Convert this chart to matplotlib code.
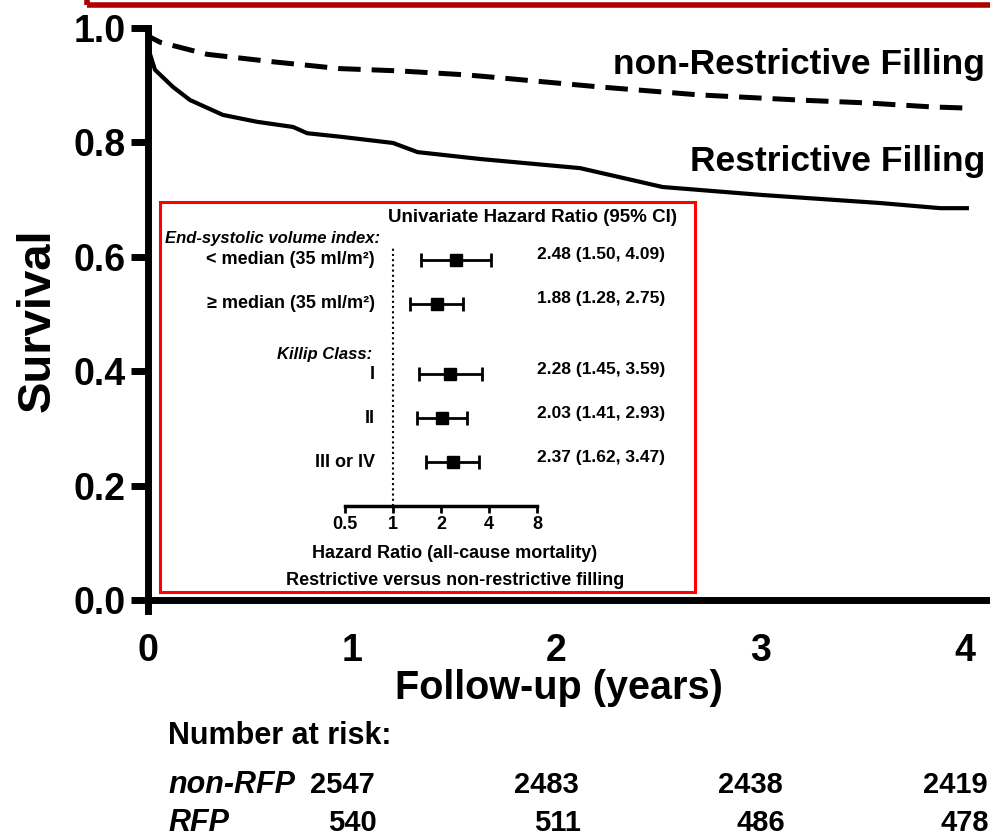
import matplotlib
matplotlib.use("Agg")
import matplotlib.pyplot as plt
import matplotlib.transforms as mtransforms
from matplotlib.patches import Rectangle

plt.rcParams['font.family'] = ['Liberation Sans', 'DejaVu Sans']

# Kaplan-Meier survival curves (years, survival probability)
t_nonrfp = [0, 0.01, 0.06, 0.29, 0.61, 0.94, 1.23, 1.56, 1.72, 2.21, 2.70, 3.19, 3.52, 3.84, 4.01]
s_nonrfp = [1.0, 0.984, 0.975, 0.954, 0.941, 0.929, 0.925, 0.918, 0.913, 0.897, 0.883, 0.874, 0.869, 0.862, 0.860]

t_rfp = [0, 0.005, 0.034, 0.122, 0.206, 0.367, 0.534, 0.71, 0.78, 0.94, 1.2, 1.32,
         1.626, 2.116, 2.52, 3.01, 3.585, 3.88, 4.01]
s_rfp = [1.0, 0.96, 0.927, 0.897, 0.874, 0.848, 0.836, 0.827, 0.816, 0.810, 0.799, 0.783,
         0.771, 0.755, 0.722, 0.708, 0.694, 0.685, 0.685]

x_ticks = [0, 1, 2, 3, 4]
y_ticks = [0.0, 0.2, 0.4, 0.6, 0.8, 1.0]

# Number at risk table
risk_cols = [1, 2, 3, 4]
risk_nonrfp = [2547, 2483, 2438, 2419]
risk_rfp = [540, 511, 486, 478]

# Forest plot: univariate hazard ratios (95% CI)
hr_labels = ['< median (35 ml/m²)', '≥ median (35 ml/m²)', 'I', 'II', 'III or IV']
hr_rows = [0, 1, 2.6, 3.6, 4.6]
hr = [2.48, 1.88, 2.28, 2.03, 2.37]
hr_lo = [1.50, 1.28, 1.45, 1.41, 1.62]
hr_hi = [4.09, 2.75, 3.59, 2.93, 3.47]
hr_ticks = [0.5, 1, 2, 4, 8]
hr_ticklabels = ['0.5', '1', '2', '4', '8']

W, H = 990, 838
fig = plt.figure(figsize=(W / 100, H / 100), dpi=100)
fig.patch.set_facecolor('white')


def fx(px):
    return px / W


def fy(py):
    return 1 - py / H


# frame line running along the top edge
fig.patches.append(Rectangle((fx(87), fy(5)), 2, 2, transform=fig.transFigure,
                             fill=False, edgecolor='#b00000', lw=4, clip_on=False))

# ---- main survival axes ----
ax = fig.add_axes([fx(148), fy(611.4), (W - 148) / W, (611.4 - 28) / H])
ax.plot(t_nonrfp, s_nonrfp, color='black', lw=3.6, dashes=(4.5, 2.2), solid_capstyle='butt')
ax.plot(t_rfp, s_rfp, color='black', lw=3.0)
ax.set_xlim(0, (W - 148) / 204.2)
ax.set_ylim(-0.02, 1.0)
ax.spines['top'].set_visible(False)
ax.spines['right'].set_visible(False)
ax.spines['bottom'].set_position(('data', 0))
ax.spines['bottom'].set_linewidth(5)
ax.spines['left'].set_linewidth(5)
ax.set_yticks(y_ticks)
ax.set_yticklabels([f'{v:.1f}' for v in y_ticks], fontsize=27, fontweight='bold')
ax.tick_params(axis='y', length=12.5, width=5, pad=3.5)
ax.set_xticks(x_ticks)
ax.set_xticklabels([str(v) for v in x_ticks], fontsize=27, fontweight='bold')
ax.tick_params(axis='x', length=0, pad=24)
ax.set_ylabel('Survival', fontsize=34, fontweight='bold', labelpad=10)

ax.text(4.10, 0.937, 'non-Restrictive Filling', fontsize=25.5, fontweight='bold',
        ha='right', va='center')
ax.text(4.10, 0.767, 'Restrictive Filling', fontsize=25.5, fontweight='bold',
        ha='right', va='center')

fig.text(fx(559), fy(688), 'Follow-up (years)', fontsize=28.5, fontweight='bold',
         ha='center', va='center')

# number at risk
fig.text(fx(168), fy(736), 'Number at risk:', fontsize=22, fontweight='bold',
         ha='left', va='center')
fig.text(fx(168), fy(785), 'non-RFP', fontsize=22, fontweight='bold', style='italic',
         ha='left', va='center')
fig.text(fx(168), fy(823), 'RFP', fontsize=22, fontweight='bold', style='italic',
         ha='left', va='center')
blend = mtransforms.blended_transform_factory(ax.transData, fig.transFigure)
for c, a, b in zip(risk_cols, risk_nonrfp, risk_rfp):
    ax.text(c + 0.11, fy(785), str(a), fontsize=21, fontweight='bold', ha='right',
            va='center', transform=blend, clip_on=False)
    ax.text(c + 0.12, fy(823), str(b), fontsize=21, fontweight='bold', ha='right',
            va='center', transform=blend, clip_on=False)

# ---- inset forest plot ----
box = fig.add_axes([fx(160), fy(592), (695 - 160) / W, (592 - 202) / H])
box.set_facecolor('white')
box.set_xticks([])
box.set_yticks([])
for s in box.spines.values():
    s.set_edgecolor('#ff0000')
    s.set_linewidth(2.2)

fa = fig.add_axes([fx(345), fy(506), (537 - 345) / W, (506 - 247) / H])
fa.patch.set_alpha(0)
fa.set_xscale('log', base=2)
fa.set_xlim(0.5, 8)
fa.set_ylim(5.59, -0.295)
for side in ('top', 'right', 'left'):
    fa.spines[side].set_visible(False)
fa.spines['bottom'].set_linewidth(2.5)
fa.set_yticks([])
fa.set_xticks(hr_ticks)
fa.set_xticklabels(hr_ticklabels, fontsize=13, fontweight='bold')
fa.minorticks_off()
fa.tick_params(axis='x', length=5, width=2, pad=2)
fa.axvline(1, color='black', lw=1.5, ls=(0, (1, 1.5)))

xerr = [[h - l for h, l in zip(hr, hr_lo)], [u - h for h, u in zip(hr, hr_hi)]]
fa.errorbar(hr, hr_rows, xerr=xerr, fmt='s', color='black', ms=9, elinewidth=2,
            capsize=5, capthick=2)

lab = mtransforms.blended_transform_factory(fig.transFigure, fa.transData)
for name, r, h, l, u in zip(hr_labels, hr_rows, hr, hr_lo, hr_hi):
    fa.text(fx(375), r, name, fontsize=13, fontweight='bold', ha='right', va='center',
            transform=lab, clip_on=False)
    fa.text(fx(537), r - 0.12, f'{h:.2f} ({l:.2f}, {u:.2f})', fontsize=12.5,
            fontweight='bold', ha='left', va='center', transform=lab, clip_on=False)

fig.text(fx(532), fy(217), 'Univariate Hazard Ratio (95% CI)', fontsize=13.5,
         fontweight='bold', ha='center', va='center')
fig.text(fx(165), fy(238), 'End-systolic volume index:', fontsize=12, fontweight='bold',
         style='italic', ha='left', va='center')
fig.text(fx(372), fy(355), 'Killip Class:', fontsize=12, fontweight='bold',
         style='italic', ha='right', va='center')
fig.text(fx(455), fy(553), 'Hazard Ratio (all-cause mortality)', fontsize=13,
         fontweight='bold', ha='center', va='center')
fig.text(fx(455), fy(580), 'Restrictive versus non-restrictive filling', fontsize=13,
         fontweight='bold', ha='center', va='center')

fig.savefig('out.png', dpi=100)
